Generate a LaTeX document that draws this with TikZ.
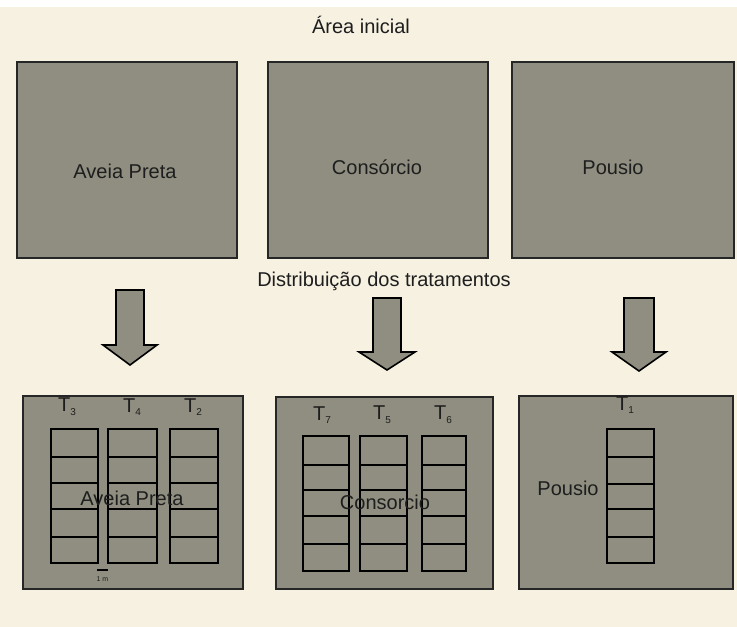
\documentclass[tikz,border=0pt]{standalone}
\usepackage{fontspec}
\setmainfont{Liberation Sans}
\definecolor{bg}{HTML}{F6F1E1}
\definecolor{boxgray}{HTML}{8F8E80}
\definecolor{ink}{HTML}{1E1E1E}
\tikzset{
  plotbox/.style={draw=black!85, line width=1.8pt, fill=boxgray, inner sep=0pt},
  lbl/.style={font=\fontsize{20}{22}\selectfont, text=ink, inner sep=0pt},
  tlbl/.style={font=\fontsize{20}{22}\selectfont, text=ink, inner sep=0pt},
  cell/.style={draw=black, line width=1.4pt},
  bigarrow/.style={draw=black, line width=1.6pt, fill=boxgray, line join=miter},
}
\newcommand\tsub[1]{T\raisebox{-0.35ex}{\fontsize{10}{10}\selectfont #1}}
% #1 centre x, #2 top y, #3 head y, #4 tip y, #5 half shaft, #6 half head
\newcommand\blockarrow[6]{%
  \draw[bigarrow] ({#1-#5},#2) -- ({#1+#5},#2) -- ({#1+#5},#3) -- ({#1+#6},#3)
    -- (#1,#4) -- ({#1-#6},#3) -- ({#1-#5},#3) -- cycle;}
\newcommand\cellcol[3]{%
  \foreach \ya/\yb in {#3} \draw[cell] (#1,\ya) rectangle (#2,\yb);}
\begin{document}
\begin{tikzpicture}[x=1pt,y=-1pt]
\useasboundingbox (0,0) rectangle (737,627);
\fill[bg] (0,0) rectangle (737,627);
\fill[white] (0,0) rectangle (737,7);

\node[lbl] (title) at (361,25) {Área inicial};

% initial areas
\node[plotbox, minimum width=220pt, minimum height=196pt] (a1) at (127,160) {};
\node[plotbox, minimum width=220pt, minimum height=196pt] (a2) at (378,160) {};
\node[plotbox, minimum width=222pt, minimum height=196pt] (a3) at (623,160) {};
\node[lbl] (la1) at (125,171) {Aveia Preta};
\node[lbl] (la2) at (377,167) {Consórcio};
\node[lbl] (la3) at (613,167) {Pousio};

\node[lbl] (dist) at (384,281) {Distribuição dos tratamentos};

% arrows
\blockarrow{130}{290}{345}{365}{14}{27}
\blockarrow{387}{298}{352}{370}{14}{28}
\blockarrow{639}{298}{352}{371}{15}{27}

% treatment areas
\node[plotbox, minimum width=220pt, minimum height=193pt] (b1) at (133,492.5) {};
\node[plotbox, minimum width=217pt, minimum height=192pt] (b2) at (384.5,493) {};
\node[plotbox, minimum width=214pt, minimum height=193pt] (b3) at (626,492.5) {};

% plots in box 1
\cellcol{51}{98}{429/457,457/483,483/509,509/537,537/563}
\cellcol{108}{157}{429/457,457/483,483/509,509/537,537/563}
\cellcol{170}{218}{429/457,457/483,483/509,509/537,537/563}
% plots in box 2
\cellcol{303}{349}{436/465,465/490,490/516,516/544,544/571}
\cellcol{360}{407}{436/465,465/490,490/516,516/544,544/571}
\cellcol{422}{466}{436/465,465/490,490/516,516/544,544/571}
% plots in box 3
\cellcol{607}{654}{429/457,457/484,484/509,509/537,537/563}

% treatment labels
\node[tlbl] (t3) at (67,407) {\tsub{3}};
\node[tlbl] (t4) at (132,407) {\tsub{4}};
\node[tlbl] (t2) at (193,407) {\tsub{2}};
\node[tlbl] (t7) at (322,415) {\tsub{7}};
\node[tlbl] (t5) at (382,415) {\tsub{5}};
\node[tlbl] (t6) at (443,415) {\tsub{6}};
\node[tlbl] (t1) at (625,405) {\tsub{1}};

\node[lbl] (lb1) at (132,498) {Aveia Preta};
\node[lbl] (lb2) at (385,502) {Consorcio};
\node[lbl] (lb3) at (568,488) {Pousio};

% scale bar
\coordinate (s1) at (97,570);
\coordinate (s2) at (108,570);
\draw[line width=1.2pt] (s1) -- (s2);
\node[font=\fontsize{7}{8}\selectfont, text=ink, inner sep=0pt] (scale) at (102.5,579) {1 m};
\end{tikzpicture}
\end{document}
